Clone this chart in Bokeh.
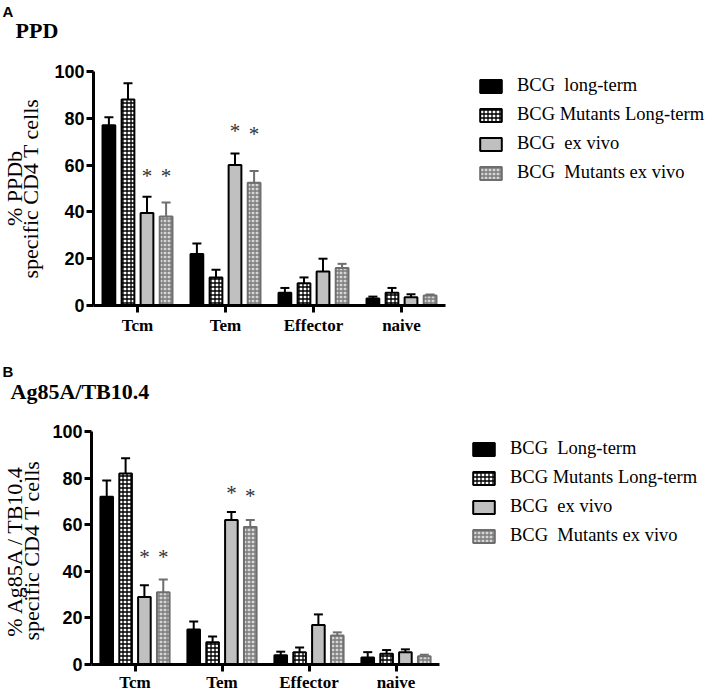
import math
from bokeh.plotting import figure
from bokeh.models import (ColumnDataSource, Range1d, Label, Legend, LegendItem,
                          FixedTicker, LinearAxis)
from bokeh.layouts import column
from bokeh.core.properties import value
from bokeh.embed import file_html
from bokeh.resources import INLINE

# ---------------- data ----------------
categories = ["Tcm", "Tem", "Effector", "naive"]
y_ticks = [0, 20, 40, 60, 80, 100]

# Panel A : PPD
a_labels = ["BCG  long-term", "BCG Mutants Long-term", "BCG  ex vivo", "BCG  Mutants ex vivo"]
a_bcg_lt = [77, 22, 5.5, 3.0]
a_bcg_lt_err = [3.5, 4.5, 2.0, 0.8]
a_mut_lt = [88, 12, 9.5, 5.5]
a_mut_lt_err = [7.0, 3.3, 2.5, 2.0]
a_bcg_ev = [39.5, 60, 14.5, 3.5]
a_bcg_ev_err = [7.0, 5.0, 5.5, 1.3]
a_mut_ev = [38, 52.5, 16, 4.3]
a_mut_ev_err = [6.0, 5.0, 1.8, 0.4]
a_star_cat = ["Tcm", "Tcm", "Tem", "Tem"]
a_star_series = [2, 3, 2, 3]
a_star_y = [56, 56, 75.5, 74]

# Panel B : Ag85A/TB10.4
b_labels = ["BCG  Long-term", "BCG Mutants Long-term", "BCG  ex vivo", "BCG  Mutants ex vivo"]
b_bcg_lt = [72, 15, 4.0, 3.0]
b_bcg_lt_err = [7.0, 3.5, 1.5, 2.3]
b_mut_lt = [82, 9.5, 5.3, 4.6]
b_mut_lt_err = [6.5, 2.5, 2.0, 1.6]
b_bcg_ev = [29, 62, 17, 5.3]
b_bcg_ev_err = [5.0, 3.5, 4.5, 1.2]
b_mut_ev = [31, 59, 12.5, 3.5]
b_mut_ev_err = [5.5, 3.0, 1.3, 0.7]
b_star_cat = ["Tcm", "Tcm", "Tem", "Tem"]
b_star_series = [2, 3, 2, 3]
b_star_y = [47, 47, 74.5, 73]

# ---------------- styles ----------------
SERIF = "Liberation Serif"
SANS = "Liberation Sans"
OFFSETS = [-0.325, -0.108, 0.108, 0.325]
BAR_W = 0.145
STYLES = [
    dict(fill_color="black", line_color="black"),
    dict(fill_color="white", line_color="black", hatch_pattern="cross",
         hatch_color="black", hatch_scale=4, hatch_weight=1.3),
    dict(fill_color="#c0c0c0", line_color="black"),
    dict(fill_color="#d6d6d6", line_color="#6e6e6e", hatch_pattern="cross",
         hatch_color="#7c7c7c", hatch_scale=4, hatch_weight=1.3),
]
ERR_COLORS = ["black", "black", "black", "#6e6e6e"]
W = 711


def make_panel(height, ax_x, ax_y, px_cat, px_unit, series, labels, stars,
               letter, title, ylab1, ylab2, lab_pos, legend_xy, x_standoff):
    # frame fills the whole canvas; axes are pinned at data (0, 0)
    x_range = Range1d(-ax_x / px_cat, (W - ax_x) / px_cat)
    y_range = Range1d(-(height - ax_y) / px_unit, ax_y / px_unit)
    p = figure(width=W, height=height, x_range=x_range, y_range=y_range,
               output_backend="svg", toolbar_location=None, tools="",
               x_axis_location=None, y_axis_location=None,
               min_border=0)
    p.xgrid.grid_line_color = None
    p.ygrid.grid_line_color = None
    p.outline_line_color = None

    ya = LinearAxis(fixed_location=0, bounds=(0, 100), ticker=FixedTicker(ticks=y_ticks))
    ya.minor_tick_line_color = None
    ya.axis_line_width = 3
    ya.major_tick_line_width = 3
    ya.major_tick_out = 7
    ya.major_tick_in = 0
    ya.major_label_text_font = SANS
    ya.major_label_text_font_style = "bold"
    ya.major_label_text_font_size = "18px"
    ya.major_label_text_color = "black"
    ya.major_label_standoff = 2
    p.add_layout(ya, "left")

    centers = [i + 0.5 for i in range(len(categories))]
    xa = LinearAxis(fixed_location=0, bounds=(0, len(categories)),
                    ticker=FixedTicker(ticks=centers),
                    major_label_overrides={c: n for c, n in zip(centers, categories)})
    xa.minor_tick_line_color = None
    xa.axis_line_width = 3
    xa.major_tick_line_width = 3
    xa.major_tick_out = 7
    xa.major_tick_in = 0
    xa.major_label_text_font = SERIF
    xa.major_label_text_font_style = "bold"
    xa.major_label_text_font_size = "17px"
    xa.major_label_text_color = "black"
    xa.major_label_standoff = x_standoff
    p.add_layout(xa, "below")

    items = []
    for i, (vals, errs) in enumerate(series):
        xs = [categories.index(c) + 0.5 + OFFSETS[i] for c in categories]
        src = ColumnDataSource(dict(x=xs, top=vals,
                                    up=[v + e for v, e in zip(vals, errs)]))
        p.segment(x0="x", y0="top", x1="x", y1="up", source=src,
                  line_color=ERR_COLORS[i], line_width=2)
        p.scatter(x="x", y="up", source=src, marker="dash", size=9,
                  line_color=ERR_COLORS[i], line_width=2)
        r = p.vbar(x="x", top="top", width=BAR_W, source=src, line_width=2, **STYLES[i])
        items.append(LegendItem(label=labels[i], renderers=[r]))

    s_cat, s_ser, s_y = stars
    sx = [categories.index(c) + 0.5 + OFFSETS[s] for c, s in zip(s_cat, s_ser)]
    ssrc = ColumnDataSource(dict(x=sx, y=s_y, t=["*"] * len(sx)))
    p.text(x="x", y="y", text="t", source=ssrc,
           text_font=value(SERIF), text_font_size=value("21px"),
           text_align="center", text_baseline="middle", text_color="#333333",
           y_offset=2)

    legend = Legend(items=items, location=legend_xy, border_line_color=None,
                    background_fill_alpha=0, padding=0, margin=0, spacing=8,
                    glyph_width=27, glyph_height=16, label_standoff=13,
                    label_text_font=SERIF, label_text_font_size="18.5px",
                    label_height=16, label_text_color="black")
    p.add_layout(legend)

    (lx, ly), (tx, ty), (y1x, y2x, yy) = lab_pos
    p.add_layout(Label(x=lx, y=ly, x_units="screen", y_units="screen", text=letter,
                       text_font=SANS, text_font_style="bold", text_font_size="15px",
                       text_baseline="top", text_align="left", text_color="black"))
    p.add_layout(Label(x=tx, y=ty, x_units="screen", y_units="screen", text=title,
                       text_font=SERIF, text_font_style="bold", text_font_size="22px",
                       text_baseline="alphabetic", text_align="left", text_color="black"))
    for txt, xx in ((ylab1, y1x), (ylab2, y2x)):
        p.add_layout(Label(x=xx, y=yy, x_units="screen", y_units="screen", text=txt,
                           angle=math.pi / 2, text_font=SERIF, text_font_size="22px",
                           text_align="center", text_baseline="alphabetic",
                           text_color="black"))
    return p


pA = make_panel(345, 93, 305, 88, 2.34,
                [(a_bcg_lt, a_bcg_lt_err), (a_mut_lt, a_mut_lt_err),
                 (a_bcg_ev, a_bcg_ev_err), (a_mut_ev, a_mut_ev_err)],
                a_labels, (a_star_cat, a_star_series, a_star_y),
                "A", "PPD", "% PPDb", "specific CD4 T cells",
                ((2, 343), (15, 315), (14, 30, 157)), (477, 162), 3)

pB = make_panel(350, 91, 319, 87, 2.33,
                [(b_bcg_lt, b_bcg_lt_err), (b_mut_lt, b_mut_lt_err),
                 (b_bcg_ev, b_bcg_ev_err), (b_mut_ev, b_mut_ev_err)],
                b_labels, (b_star_cat, b_star_series, b_star_y),
                "B", "Ag85A/TB10.4", "% Ag85A / TB10.4", "specific CD4 T cells",
                ((2, 333), (10, 304), (14, 31, 145)), (470, 149), 1)

layout = column(pA, pB)
open("out.html", "w").write(file_html(layout, INLINE))
